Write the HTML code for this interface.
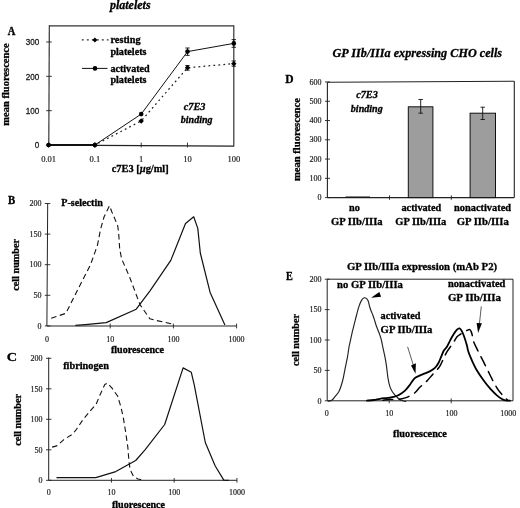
<!DOCTYPE html>
<html><head><meta charset="utf-8"><style>
html,body{margin:0;padding:0;background:#fff;}
svg{display:block;filter:grayscale(1) blur(0.35px);}
</style></head><body>
<svg width="520" height="508" viewBox="0 0 520 508">
<rect width="520" height="508" fill="#fff"/>
<line x1="49.30" y1="25.80" x2="233.80" y2="25.80" stroke="#333" stroke-width="1.2" />
<line x1="49.30" y1="25.20" x2="48.80" y2="145.50" stroke="#222" stroke-width="1.1" />
<line x1="233.80" y1="25.20" x2="233.80" y2="146.50" stroke="#333" stroke-width="1.2" />
<line x1="49.00" y1="145.10" x2="233.80" y2="146.10" stroke="#222" stroke-width="1.1" />
<line x1="46.20" y1="110.67" x2="51.80" y2="110.67" stroke="#222" stroke-width="0.9" />
<line x1="46.20" y1="76.34" x2="51.80" y2="76.34" stroke="#222" stroke-width="0.9" />
<line x1="46.20" y1="42.01" x2="51.80" y2="42.01" stroke="#222" stroke-width="0.9" />
<line x1="94.90" y1="142.60" x2="94.90" y2="147.40" stroke="#222" stroke-width="0.9" />
<line x1="141.20" y1="142.60" x2="141.20" y2="147.40" stroke="#222" stroke-width="0.9" />
<line x1="187.50" y1="142.60" x2="187.50" y2="147.40" stroke="#222" stroke-width="0.9" />
<text transform="translate(39.2,148.30) scale(0.88,1)" font-family='"Liberation Sans", sans-serif' font-size="9.2" text-anchor="end" fill="#1a1a1a" stroke="#1a1a1a" stroke-width="0.3">0</text>
<text transform="translate(39.2,113.97) scale(0.88,1)" font-family='"Liberation Sans", sans-serif' font-size="9.2" text-anchor="end" fill="#1a1a1a" stroke="#1a1a1a" stroke-width="0.3">100</text>
<text transform="translate(39.2,79.64) scale(0.88,1)" font-family='"Liberation Sans", sans-serif' font-size="9.2" text-anchor="end" fill="#1a1a1a" stroke="#1a1a1a" stroke-width="0.3">200</text>
<text transform="translate(39.2,45.31) scale(0.88,1)" font-family='"Liberation Sans", sans-serif' font-size="9.2" text-anchor="end" fill="#1a1a1a" stroke="#1a1a1a" stroke-width="0.3">300</text>
<text x="48.60" y="161.70" font-family='"Liberation Serif", serif' font-size="8.5" font-weight="normal" text-anchor="middle" fill="#1a1a1a" stroke="#1a1a1a" stroke-width="0.18">0.01</text>
<text x="94.90" y="161.70" font-family='"Liberation Serif", serif' font-size="8.5" font-weight="normal" text-anchor="middle" fill="#1a1a1a" stroke="#1a1a1a" stroke-width="0.18">0.1</text>
<text x="141.20" y="161.70" font-family='"Liberation Serif", serif' font-size="8.5" font-weight="normal" text-anchor="middle" fill="#1a1a1a" stroke="#1a1a1a" stroke-width="0.18">1</text>
<text x="187.50" y="161.70" font-family='"Liberation Serif", serif' font-size="8.5" font-weight="normal" text-anchor="middle" fill="#1a1a1a" stroke="#1a1a1a" stroke-width="0.18">10</text>
<text x="233.80" y="161.70" font-family='"Liberation Serif", serif' font-size="8.5" font-weight="normal" text-anchor="middle" fill="#1a1a1a" stroke="#1a1a1a" stroke-width="0.18">100</text>
<polyline points="48.60,145.00 94.90,145.00 141.20,120.97 187.50,67.76 233.80,63.64" fill="none" stroke="#222" stroke-width="1.25" stroke-linejoin="round" stroke-dasharray="1.8 3.2"/>
<polyline points="48.60,145.00 94.90,145.00 141.20,114.10 187.50,51.62 233.80,43.38" fill="none" stroke="#111" stroke-width="1.0" stroke-linejoin="round" />
<line x1="48.60" y1="145.00" x2="94.90" y2="145.00" stroke="#111" stroke-width="2.0" />
<line x1="187.50" y1="48.00" x2="187.50" y2="55.40" stroke="#111" stroke-width="0.9" />
<line x1="185.30" y1="48.00" x2="189.70" y2="48.00" stroke="#111" stroke-width="0.9" />
<line x1="185.30" y1="55.40" x2="189.70" y2="55.40" stroke="#111" stroke-width="0.9" />
<line x1="233.80" y1="39.60" x2="233.80" y2="47.30" stroke="#111" stroke-width="0.9" />
<line x1="231.60" y1="39.60" x2="236.00" y2="39.60" stroke="#111" stroke-width="0.9" />
<line x1="231.60" y1="47.30" x2="236.00" y2="47.30" stroke="#111" stroke-width="0.9" />
<line x1="187.50" y1="65.50" x2="187.50" y2="70.20" stroke="#111" stroke-width="0.9" />
<line x1="185.30" y1="65.50" x2="189.70" y2="65.50" stroke="#111" stroke-width="0.9" />
<line x1="185.30" y1="70.20" x2="189.70" y2="70.20" stroke="#111" stroke-width="0.9" />
<line x1="233.80" y1="61.00" x2="233.80" y2="66.20" stroke="#111" stroke-width="0.9" />
<line x1="231.60" y1="61.00" x2="236.00" y2="61.00" stroke="#111" stroke-width="0.9" />
<line x1="231.60" y1="66.20" x2="236.00" y2="66.20" stroke="#111" stroke-width="0.9" />
<path d="M48.60 142.30 L51.30 145.00 L48.60 147.70 L45.90 145.00Z" fill="#000"/>
<path d="M94.90 142.30 L97.60 145.00 L94.90 147.70 L92.20 145.00Z" fill="#000"/>
<path d="M141.20 118.27 L143.90 120.97 L141.20 123.67 L138.50 120.97Z" fill="#000"/>
<path d="M187.50 65.06 L190.20 67.76 L187.50 70.46 L184.80 67.76Z" fill="#000"/>
<path d="M233.80 60.94 L236.50 63.64 L233.80 66.34 L231.10 63.64Z" fill="#000"/>
<circle cx="48.60" cy="145.00" r="2.3" fill="#000"/>
<circle cx="94.90" cy="145.00" r="2.3" fill="#000"/>
<circle cx="141.20" cy="114.10" r="2.3" fill="#000"/>
<circle cx="187.50" cy="51.62" r="2.3" fill="#000"/>
<circle cx="233.80" cy="43.38" r="2.3" fill="#000"/>
<line x1="81.80" y1="39.90" x2="108.60" y2="39.90" stroke="#333" stroke-width="1.3" stroke-dasharray="2 3"/>
<path d="M94.90 37.40 L97.40 39.90 L94.90 42.40 L92.40 39.90Z" fill="#000"/>
<line x1="82.00" y1="68.40" x2="107.50" y2="68.40" stroke="#111" stroke-width="1.0" />
<circle cx="95.00" cy="68.40" r="2.3" fill="#000"/>
<line x1="47.70" y1="203.00" x2="46.90" y2="326.00" stroke="#222" stroke-width="1.0" />
<line x1="47.00" y1="326.00" x2="236.60" y2="326.00" stroke="#222" stroke-width="1.0" />
<line x1="44.80" y1="325.90" x2="50.30" y2="325.90" stroke="#222" stroke-width="0.9" />
<text x="41.60" y="328.60" font-family='"Liberation Serif", serif' font-size="8" font-weight="normal" text-anchor="end" fill="#1a1a1a" stroke="#1a1a1a" stroke-width="0.18">0</text>
<line x1="44.80" y1="295.30" x2="50.30" y2="295.30" stroke="#222" stroke-width="0.9" />
<text x="41.60" y="298.00" font-family='"Liberation Serif", serif' font-size="8" font-weight="normal" text-anchor="end" fill="#1a1a1a" stroke="#1a1a1a" stroke-width="0.18">50</text>
<line x1="44.80" y1="264.70" x2="50.30" y2="264.70" stroke="#222" stroke-width="0.9" />
<text x="41.60" y="267.40" font-family='"Liberation Serif", serif' font-size="8" font-weight="normal" text-anchor="end" fill="#1a1a1a" stroke="#1a1a1a" stroke-width="0.18">100</text>
<line x1="44.80" y1="234.10" x2="50.30" y2="234.10" stroke="#222" stroke-width="0.9" />
<text x="41.60" y="236.80" font-family='"Liberation Serif", serif' font-size="8" font-weight="normal" text-anchor="end" fill="#1a1a1a" stroke="#1a1a1a" stroke-width="0.18">150</text>
<line x1="44.80" y1="203.50" x2="50.30" y2="203.50" stroke="#222" stroke-width="0.9" />
<text x="41.60" y="206.20" font-family='"Liberation Serif", serif' font-size="8" font-weight="normal" text-anchor="end" fill="#1a1a1a" stroke="#1a1a1a" stroke-width="0.18">200</text>
<line x1="110.20" y1="323.60" x2="110.20" y2="328.40" stroke="#222" stroke-width="0.9" />
<line x1="173.40" y1="323.60" x2="173.40" y2="328.40" stroke="#222" stroke-width="0.9" />
<line x1="236.60" y1="323.60" x2="236.60" y2="328.40" stroke="#222" stroke-width="0.9" />
<text x="47.00" y="342.00" font-family='"Liberation Serif", serif' font-size="8" font-weight="normal" text-anchor="middle" fill="#1a1a1a" stroke="#1a1a1a" stroke-width="0.18">0</text>
<text x="110.20" y="342.00" font-family='"Liberation Serif", serif' font-size="8" font-weight="normal" text-anchor="middle" fill="#1a1a1a" stroke="#1a1a1a" stroke-width="0.18">10</text>
<text x="173.40" y="342.00" font-family='"Liberation Serif", serif' font-size="8" font-weight="normal" text-anchor="middle" fill="#1a1a1a" stroke="#1a1a1a" stroke-width="0.18">100</text>
<text x="236.60" y="342.00" font-family='"Liberation Serif", serif' font-size="8" font-weight="normal" text-anchor="middle" fill="#1a1a1a" stroke="#1a1a1a" stroke-width="0.18">1000</text>
<polyline points="51.20,318.20 65.90,313.30 79.50,286.20 90.60,264.50 97.50,245.00 100.40,230.00 104.00,217.00 109.50,205.80 111.80,211.80 117.70,225.60 118.70,233.50 119.70,249.20 121.70,259.00 129.50,276.80 140.00,304.70 149.80,318.70 154.80,320.20 174.50,324.40" fill="none" stroke="#111" stroke-width="1.1" stroke-linejoin="round" stroke-dasharray="5.5 3.5"/>
<polyline points="75.40,325.40 85.40,324.60 106.20,322.60 136.20,309.20 150.00,290.80 170.80,260.40 185.50,223.50 193.70,216.80 197.80,228.40 200.30,253.00 210.10,292.40 224.90,325.10" fill="none" stroke="#111" stroke-width="1.2" stroke-linejoin="round" />
<line x1="48.70" y1="357.50" x2="48.70" y2="480.30" stroke="#222" stroke-width="1.0" />
<line x1="48.70" y1="480.30" x2="237.00" y2="480.30" stroke="#222" stroke-width="1.0" />
<line x1="46.00" y1="480.30" x2="51.40" y2="480.30" stroke="#222" stroke-width="0.9" />
<text x="42.60" y="483.00" font-family='"Liberation Serif", serif' font-size="8" font-weight="normal" text-anchor="end" fill="#1a1a1a" stroke="#1a1a1a" stroke-width="0.18">0</text>
<line x1="46.00" y1="449.80" x2="51.40" y2="449.80" stroke="#222" stroke-width="0.9" />
<text x="42.60" y="452.50" font-family='"Liberation Serif", serif' font-size="8" font-weight="normal" text-anchor="end" fill="#1a1a1a" stroke="#1a1a1a" stroke-width="0.18">50</text>
<line x1="46.00" y1="419.30" x2="51.40" y2="419.30" stroke="#222" stroke-width="0.9" />
<text x="42.60" y="422.00" font-family='"Liberation Serif", serif' font-size="8" font-weight="normal" text-anchor="end" fill="#1a1a1a" stroke="#1a1a1a" stroke-width="0.18">100</text>
<line x1="46.00" y1="388.80" x2="51.40" y2="388.80" stroke="#222" stroke-width="0.9" />
<text x="42.60" y="391.50" font-family='"Liberation Serif", serif' font-size="8" font-weight="normal" text-anchor="end" fill="#1a1a1a" stroke="#1a1a1a" stroke-width="0.18">150</text>
<line x1="46.00" y1="358.30" x2="51.40" y2="358.30" stroke="#222" stroke-width="0.9" />
<text x="42.60" y="361.00" font-family='"Liberation Serif", serif' font-size="8" font-weight="normal" text-anchor="end" fill="#1a1a1a" stroke="#1a1a1a" stroke-width="0.18">200</text>
<line x1="111.45" y1="478.00" x2="111.45" y2="482.60" stroke="#222" stroke-width="0.9" />
<line x1="174.20" y1="478.00" x2="174.20" y2="482.60" stroke="#222" stroke-width="0.9" />
<line x1="236.95" y1="478.00" x2="236.95" y2="482.60" stroke="#222" stroke-width="0.9" />
<text x="48.70" y="495.20" font-family='"Liberation Serif", serif' font-size="8" font-weight="normal" text-anchor="middle" fill="#1a1a1a" stroke="#1a1a1a" stroke-width="0.18">0</text>
<text x="111.45" y="495.20" font-family='"Liberation Serif", serif' font-size="8" font-weight="normal" text-anchor="middle" fill="#1a1a1a" stroke="#1a1a1a" stroke-width="0.18">10</text>
<text x="174.20" y="495.20" font-family='"Liberation Serif", serif' font-size="8" font-weight="normal" text-anchor="middle" fill="#1a1a1a" stroke="#1a1a1a" stroke-width="0.18">100</text>
<text x="236.95" y="495.20" font-family='"Liberation Serif", serif' font-size="8" font-weight="normal" text-anchor="middle" fill="#1a1a1a" stroke="#1a1a1a" stroke-width="0.18">1000</text>
<polyline points="52.10,447.10 56.80,445.90 63.90,439.60 72.60,434.10 76.50,429.30 82.80,419.90 90.70,410.40 96.20,404.10 100.10,394.70 104.80,384.40 107.40,383.20 112.00,388.10 117.60,396.00 121.00,407.30 123.30,417.50 125.50,431.10 127.80,446.90 128.90,460.50 130.10,469.50 133.50,476.30 138.00,479.00 141.40,479.70" fill="none" stroke="#111" stroke-width="1.1" stroke-linejoin="round" stroke-dasharray="5.5 3.5"/>
<polyline points="56.50,477.60 95.80,477.60 115.80,471.60 135.70,460.50 145.00,449.80 164.70,424.50 183.10,367.90 191.30,372.30 194.20,384.60 205.30,442.50 215.10,465.80 223.80,480.10 228.70,480.40" fill="none" stroke="#111" stroke-width="1.2" stroke-linejoin="round" />
<line x1="327.40" y1="82.30" x2="514.30" y2="81.20" stroke="#222" stroke-width="1.1" />
<line x1="327.40" y1="82.30" x2="327.40" y2="197.60" stroke="#222" stroke-width="1.1" />
<line x1="514.30" y1="81.20" x2="514.30" y2="197.60" stroke="#222" stroke-width="1.1" />
<line x1="327.40" y1="197.60" x2="514.30" y2="197.60" stroke="#222" stroke-width="1.1" />
<line x1="325.00" y1="197.60" x2="330.00" y2="197.60" stroke="#222" stroke-width="0.9" />
<text x="321.60" y="200.30" font-family='"Liberation Serif", serif' font-size="8" font-weight="normal" text-anchor="end" fill="#1a1a1a" stroke="#1a1a1a" stroke-width="0.18">0</text>
<line x1="325.00" y1="178.33" x2="330.00" y2="178.33" stroke="#222" stroke-width="0.9" />
<text x="321.60" y="181.03" font-family='"Liberation Serif", serif' font-size="8" font-weight="normal" text-anchor="end" fill="#1a1a1a" stroke="#1a1a1a" stroke-width="0.18">100</text>
<line x1="325.00" y1="159.06" x2="330.00" y2="159.06" stroke="#222" stroke-width="0.9" />
<text x="321.60" y="161.76" font-family='"Liberation Serif", serif' font-size="8" font-weight="normal" text-anchor="end" fill="#1a1a1a" stroke="#1a1a1a" stroke-width="0.18">200</text>
<line x1="325.00" y1="139.79" x2="330.00" y2="139.79" stroke="#222" stroke-width="0.9" />
<text x="321.60" y="142.49" font-family='"Liberation Serif", serif' font-size="8" font-weight="normal" text-anchor="end" fill="#1a1a1a" stroke="#1a1a1a" stroke-width="0.18">300</text>
<line x1="325.00" y1="120.52" x2="330.00" y2="120.52" stroke="#222" stroke-width="0.9" />
<text x="321.60" y="123.22" font-family='"Liberation Serif", serif' font-size="8" font-weight="normal" text-anchor="end" fill="#1a1a1a" stroke="#1a1a1a" stroke-width="0.18">400</text>
<line x1="325.00" y1="101.25" x2="330.00" y2="101.25" stroke="#222" stroke-width="0.9" />
<text x="321.60" y="103.95" font-family='"Liberation Serif", serif' font-size="8" font-weight="normal" text-anchor="end" fill="#1a1a1a" stroke="#1a1a1a" stroke-width="0.18">500</text>
<line x1="325.00" y1="81.98" x2="330.00" y2="81.98" stroke="#222" stroke-width="0.9" />
<text x="321.60" y="84.68" font-family='"Liberation Serif", serif' font-size="8" font-weight="normal" text-anchor="end" fill="#1a1a1a" stroke="#1a1a1a" stroke-width="0.18">600</text>
<line x1="389.50" y1="195.40" x2="389.50" y2="199.80" stroke="#222" stroke-width="0.9" />
<line x1="451.30" y1="195.40" x2="451.30" y2="199.80" stroke="#222" stroke-width="0.9" />
<rect x="408.3" y="106.8" width="24.6" height="90.8" fill="#9d9d9d" stroke="#111" stroke-width="1"/>
<rect x="470.1" y="113.2" width="25.4" height="84.4" fill="#9d9d9d" stroke="#111" stroke-width="1"/>
<line x1="345.50" y1="197.00" x2="370.00" y2="197.00" stroke="#111" stroke-width="1.0" />
<line x1="420.70" y1="99.50" x2="420.70" y2="113.20" stroke="#111" stroke-width="0.9" />
<line x1="418.50" y1="99.50" x2="422.90" y2="99.50" stroke="#111" stroke-width="0.9" />
<line x1="418.50" y1="113.20" x2="422.90" y2="113.20" stroke="#111" stroke-width="0.9" />
<line x1="482.70" y1="107.20" x2="482.70" y2="119.50" stroke="#111" stroke-width="0.9" />
<line x1="480.50" y1="107.20" x2="484.90" y2="107.20" stroke="#111" stroke-width="0.9" />
<line x1="480.50" y1="119.50" x2="484.90" y2="119.50" stroke="#111" stroke-width="0.9" />
<line x1="327.20" y1="279.20" x2="513.00" y2="279.20" stroke="#222" stroke-width="1.0" />
<line x1="327.20" y1="279.20" x2="327.20" y2="400.80" stroke="#222" stroke-width="1.0" />
<line x1="513.00" y1="279.20" x2="513.00" y2="400.80" stroke="#222" stroke-width="1.0" />
<line x1="327.20" y1="400.80" x2="513.00" y2="400.80" stroke="#222" stroke-width="1.0" />
<line x1="324.80" y1="400.80" x2="329.60" y2="400.80" stroke="#222" stroke-width="0.9" />
<text x="321.40" y="403.50" font-family='"Liberation Serif", serif' font-size="8" font-weight="normal" text-anchor="end" fill="#1a1a1a" stroke="#1a1a1a" stroke-width="0.18">0</text>
<line x1="324.80" y1="370.40" x2="329.60" y2="370.40" stroke="#222" stroke-width="0.9" />
<text x="321.40" y="373.10" font-family='"Liberation Serif", serif' font-size="8" font-weight="normal" text-anchor="end" fill="#1a1a1a" stroke="#1a1a1a" stroke-width="0.18">50</text>
<line x1="324.80" y1="340.00" x2="329.60" y2="340.00" stroke="#222" stroke-width="0.9" />
<text x="321.40" y="342.70" font-family='"Liberation Serif", serif' font-size="8" font-weight="normal" text-anchor="end" fill="#1a1a1a" stroke="#1a1a1a" stroke-width="0.18">100</text>
<line x1="324.80" y1="309.60" x2="329.60" y2="309.60" stroke="#222" stroke-width="0.9" />
<text x="321.40" y="312.30" font-family='"Liberation Serif", serif' font-size="8" font-weight="normal" text-anchor="end" fill="#1a1a1a" stroke="#1a1a1a" stroke-width="0.18">150</text>
<line x1="324.80" y1="279.20" x2="329.60" y2="279.20" stroke="#222" stroke-width="0.9" />
<text x="321.40" y="281.90" font-family='"Liberation Serif", serif' font-size="8" font-weight="normal" text-anchor="end" fill="#1a1a1a" stroke="#1a1a1a" stroke-width="0.18">200</text>
<line x1="389.20" y1="398.40" x2="389.20" y2="403.20" stroke="#222" stroke-width="0.9" />
<line x1="451.20" y1="398.40" x2="451.20" y2="403.20" stroke="#222" stroke-width="0.9" />
<text x="326.80" y="416.00" font-family='"Liberation Serif", serif' font-size="8" font-weight="normal" text-anchor="middle" fill="#1a1a1a" stroke="#1a1a1a" stroke-width="0.18">0</text>
<text x="389.30" y="416.00" font-family='"Liberation Serif", serif' font-size="8" font-weight="normal" text-anchor="middle" fill="#1a1a1a" stroke="#1a1a1a" stroke-width="0.18">10</text>
<text x="451.40" y="416.00" font-family='"Liberation Serif", serif' font-size="8" font-weight="normal" text-anchor="middle" fill="#1a1a1a" stroke="#1a1a1a" stroke-width="0.18">100</text>
<text x="508.30" y="416.00" font-family='"Liberation Serif", serif' font-size="8" font-weight="normal" text-anchor="middle" fill="#1a1a1a" stroke="#1a1a1a" stroke-width="0.18">1000</text>
<path d="M328.50,401.10 C329.10,400.92 330.92,400.88 332.10,400.00 C333.28,399.12 334.42,397.28 335.60,395.80 C336.78,394.32 338.02,393.65 339.20,391.10 C340.38,388.55 341.72,384.25 342.70,380.50 C343.68,376.75 344.30,372.55 345.10,368.60 C345.90,364.65 346.85,360.40 347.50,356.80 C348.15,353.20 348.55,349.53 349.00,347.00 C349.45,344.47 349.65,344.13 350.20,341.60 C350.75,339.07 351.58,334.87 352.30,331.80 C353.02,328.73 353.77,326.08 354.50,323.20 C355.23,320.32 355.98,317.22 356.70,314.50 C357.42,311.78 358.00,309.25 358.80,306.90 C359.60,304.55 360.60,301.92 361.50,300.40 C362.40,298.88 363.35,298.10 364.20,297.80 C365.05,297.50 365.92,298.03 366.60,298.60 C367.28,299.17 367.80,299.88 368.30,301.20 C368.80,302.52 369.12,304.83 369.60,306.50 C370.08,308.17 370.67,309.78 371.20,311.20 C371.73,312.62 372.25,313.55 372.80,315.00 C373.35,316.45 373.95,318.18 374.50,319.90 C375.05,321.62 375.48,323.50 376.10,325.30 C376.72,327.10 377.57,329.07 378.20,330.70 C378.83,332.33 379.35,333.47 379.90,335.10 C380.45,336.73 381.05,338.68 381.50,340.50 C381.95,342.32 382.20,344.07 382.60,346.00 C383.00,347.93 383.40,349.70 383.90,352.10 C384.40,354.50 385.12,357.65 385.60,360.40 C386.08,363.15 386.40,365.65 386.80,368.60 C387.20,371.55 387.50,375.13 388.00,378.10 C388.50,381.07 389.02,384.03 389.80,386.40 C390.58,388.77 391.52,390.53 392.70,392.30 C393.88,394.07 395.62,395.72 396.90,397.00 C398.18,398.28 398.93,399.25 400.40,400.00 C401.87,400.75 404.82,401.25 405.70,401.50" fill="none" stroke="#222" stroke-width="1.15" stroke-linejoin="round" stroke-linecap="round" />
<path d="M366.90,400.60 C368.05,400.50 371.62,400.30 373.80,400.00 C375.98,399.70 377.72,399.17 380.00,398.80 C382.28,398.43 385.20,398.12 387.50,397.80 C389.80,397.48 391.92,397.37 393.80,396.90 C395.68,396.43 396.93,396.05 398.80,395.00 C400.67,393.95 403.12,392.35 405.00,390.60 C406.88,388.85 408.55,386.50 410.10,384.50 C411.65,382.50 412.90,380.00 414.30,378.60 C415.70,377.20 416.83,376.93 418.50,376.10 C420.17,375.27 422.35,374.43 424.30,373.60 C426.25,372.77 428.38,372.08 430.20,371.10 C432.02,370.12 433.80,369.10 435.20,367.70 C436.60,366.30 437.62,364.50 438.60,362.70 C439.58,360.90 440.27,358.85 441.10,356.90 C441.93,354.95 442.63,352.68 443.60,351.00 C444.57,349.32 445.78,348.62 446.90,346.80 C448.02,344.98 449.18,342.20 450.30,340.10 C451.42,338.00 452.48,335.95 453.60,334.20 C454.72,332.45 456.02,330.57 457.00,329.60 C457.98,328.63 458.72,328.18 459.50,328.40 C460.28,328.62 460.92,329.50 461.70,330.90 C462.48,332.30 463.35,334.43 464.20,336.80 C465.05,339.17 466.10,342.60 466.80,345.10 C467.50,347.60 467.57,349.28 468.40,351.80 C469.23,354.32 470.40,357.12 471.80,360.20 C473.20,363.28 474.85,366.95 476.80,370.30 C478.75,373.65 481.27,377.23 483.50,380.30 C485.73,383.37 487.97,386.18 490.20,388.70 C492.43,391.22 494.95,393.67 496.90,395.40 C498.85,397.13 500.50,398.27 501.90,399.10 C503.30,399.93 503.95,400.15 505.30,400.40 C506.65,400.65 509.22,400.57 510.00,400.60" fill="none" stroke="#000" stroke-width="1.8" stroke-linejoin="round" stroke-linecap="round" />
<path d="M383.00,400.30 C383.97,400.15 386.58,399.55 388.80,399.40 C391.02,399.25 393.70,399.62 396.30,399.40 C398.90,399.18 401.52,399.03 404.40,398.10 C407.28,397.17 410.98,395.65 413.60,393.80 C416.22,391.95 417.90,389.12 420.10,387.00 C422.30,384.88 424.70,383.20 426.80,381.10 C428.90,379.00 430.60,376.77 432.70,374.40 C434.80,372.03 437.58,369.55 439.40,366.90 C441.22,364.25 442.35,361.02 443.60,358.50 C444.85,355.98 445.37,354.30 446.90,351.80 C448.43,349.30 451.12,346.00 452.80,343.50 C454.48,341.00 455.67,338.38 457.00,336.80 C458.33,335.22 459.57,334.80 460.80,334.00 C462.03,333.20 463.33,332.62 464.40,332.00 C465.47,331.38 466.30,330.70 467.20,330.30 C468.10,329.90 469.13,329.38 469.80,329.60 C470.47,329.82 470.78,330.62 471.20,331.60 C471.62,332.58 471.90,333.85 472.30,335.50 C472.70,337.15 472.72,339.05 473.60,341.50 C474.48,343.95 476.08,347.08 477.60,350.20 C479.12,353.32 481.02,356.85 482.70,360.20 C484.38,363.55 486.03,366.95 487.70,370.30 C489.37,373.65 490.88,376.95 492.70,380.30 C494.52,383.65 496.65,387.60 498.60,390.40 C500.55,393.20 502.87,395.45 504.40,397.10 C505.93,398.75 507.23,399.77 507.80,400.30" fill="none" stroke="#000" stroke-width="1.5" stroke-linejoin="round" stroke-linecap="round" stroke-dasharray="10 6.5"/>
<line x1="407.60" y1="346.80" x2="413.60" y2="366.00" stroke="#333" stroke-width="0.8" />
<path d="M411.0,365.4 L415.9,363.3 L415.5,373.7Z" fill="#000"/>
<line x1="481.30" y1="306.40" x2="479.30" y2="325.00" stroke="#333" stroke-width="0.8" />
<path d="M476.6,323.0 L481.9,323.2 L478.1,333.0Z" fill="#000"/>
<path d="M371.1,297.7 L379.3,291.9 L381.1,296.8Z" fill="#000"/>
<text transform="translate(109.90,9.30) scale(1.0024,1)" font-family='"Liberation Serif", serif' font-size="12" font-weight="bold" font-style="italic" fill="#000" stroke="#000" stroke-width="0.299">platelets</text>
<text transform="translate(7.70,35.00) scale(0.9125,1)" font-family='"Liberation Serif", serif' font-size="11.5" font-weight="bold" font-style="normal" fill="#000" stroke="#000" stroke-width="0.329">A</text>
<text transform="translate(111.70,172.40) scale(1.0089,1)" font-family='"Liberation Serif", serif' font-size="10.3" font-weight="bold" font-style="normal" fill="#000" stroke="#000" stroke-width="0.297">c7E3 [<tspan font-style="italic">&#181;</tspan>g/ml]</text>
<text transform="translate(8.60,125.80) rotate(-90) scale(1.0325,1)" font-family='"Liberation Serif", serif' font-size="10.2" font-weight="bold" font-style="normal" fill="#000" stroke="#000" stroke-width="0.291">mean fluorescence</text>
<text transform="translate(110.50,43.30) scale(1.0276,1)" font-family='"Liberation Serif", serif' font-size="10" font-weight="bold" font-style="normal" fill="#000" stroke="#000" stroke-width="0.292">resting</text>
<text transform="translate(110.40,54.90) scale(1.0167,1)" font-family='"Liberation Serif", serif' font-size="10" font-weight="bold" font-style="normal" fill="#000" stroke="#000" stroke-width="0.295">platelets</text>
<text transform="translate(110.40,71.60) scale(1.0128,1)" font-family='"Liberation Serif", serif' font-size="10" font-weight="bold" font-style="normal" fill="#000" stroke="#000" stroke-width="0.296">activated</text>
<text transform="translate(110.40,82.70) scale(1.0167,1)" font-family='"Liberation Serif", serif' font-size="10" font-weight="bold" font-style="normal" fill="#000" stroke="#000" stroke-width="0.295">platelets</text>
<text transform="translate(183.80,109.60) scale(1.0286,1)" font-family='"Liberation Serif", serif' font-size="10" font-weight="bold" font-style="italic" fill="#000" stroke="#000" stroke-width="0.292">c7E3</text>
<text transform="translate(180.80,123.10) scale(1.0062,1)" font-family='"Liberation Serif", serif' font-size="10" font-weight="bold" font-style="italic" fill="#000" stroke="#000" stroke-width="0.298">binding</text>
<text transform="translate(7.90,204.20) scale(0.9375,1)" font-family='"Liberation Serif", serif' font-size="11.5" font-weight="bold" font-style="normal" fill="#000" stroke="#000" stroke-width="0.320">B</text>
<text transform="translate(110.90,353.20) scale(0.9618,1)" font-family='"Liberation Serif", serif' font-size="10.5" font-weight="bold" font-style="normal" fill="#000" stroke="#000" stroke-width="0.312">fluorescence</text>
<text transform="translate(61.30,205.60) scale(1.0146,1)" font-family='"Liberation Serif", serif' font-size="10" font-weight="bold" font-style="normal" fill="#000" stroke="#000" stroke-width="0.296">P-selectin</text>
<text transform="translate(19.40,290.80) rotate(-90) scale(1.0653,1)" font-family='"Liberation Serif", serif' font-size="9.6" font-weight="bold" font-style="normal" fill="#000" stroke="#000" stroke-width="0.282">cell number</text>
<text transform="translate(6.76,361.30) scale(1.1429,1)" font-family='"Liberation Serif", serif' font-size="12.5" font-weight="bold" font-style="normal" fill="#000" stroke="#000" stroke-width="0.263">C</text>
<text transform="translate(111.90,507.60) scale(0.9618,1)" font-family='"Liberation Serif", serif' font-size="10.5" font-weight="bold" font-style="normal" fill="#000" stroke="#000" stroke-width="0.312">fluorescence</text>
<text transform="translate(63.20,368.90) scale(1.0295,1)" font-family='"Liberation Serif", serif' font-size="10" font-weight="bold" font-style="normal" fill="#000" stroke="#000" stroke-width="0.291">fibrinogen</text>
<text transform="translate(20.80,445.80) rotate(-90) scale(1.0653,1)" font-family='"Liberation Serif", serif' font-size="9.6" font-weight="bold" font-style="normal" fill="#000" stroke="#000" stroke-width="0.282">cell number</text>
<text transform="translate(332.50,56.90) scale(0.9759,1)" font-family='"Liberation Serif", serif' font-size="12.5" font-weight="bold" font-style="italic" fill="#000" stroke="#000" stroke-width="0.307">GP IIb/IIIa expressing CHO cells</text>
<text transform="translate(285.30,83.30) scale(1.0000,1)" font-family='"Liberation Serif", serif' font-size="11.5" font-weight="bold" font-style="normal" fill="#000" stroke="#000" stroke-width="0.300">D</text>
<text transform="translate(356.20,97.70) scale(1.0238,1)" font-family='"Liberation Serif", serif' font-size="10" font-weight="bold" font-style="italic" fill="#000" stroke="#000" stroke-width="0.293">c7E3</text>
<text transform="translate(350.80,111.50) scale(1.0094,1)" font-family='"Liberation Serif", serif' font-size="10" font-weight="bold" font-style="italic" fill="#000" stroke="#000" stroke-width="0.297">binding</text>
<text transform="translate(299.60,181.00) rotate(-90) scale(1.0590,1)" font-family='"Liberation Serif", serif' font-size="10.0" font-weight="bold" font-style="normal" fill="#000" stroke="#000" stroke-width="0.283">mean fluorescence</text>
<text transform="translate(349.00,210.70) scale(1.0300,1)" font-family='"Liberation Serif", serif' font-size="10" font-weight="bold" font-style="normal" fill="#000" stroke="#000" stroke-width="0.291">no</text>
<text transform="translate(331.00,224.80) scale(1.0633,1)" font-family='"Liberation Serif", serif' font-size="10" font-weight="bold" font-style="normal" fill="#000" stroke="#000" stroke-width="0.282">GP IIb/IIIa</text>
<text transform="translate(401.50,210.60) scale(1.0231,1)" font-family='"Liberation Serif", serif' font-size="10" font-weight="bold" font-style="normal" fill="#000" stroke="#000" stroke-width="0.293">activated</text>
<text transform="translate(395.30,224.80) scale(1.0510,1)" font-family='"Liberation Serif", serif' font-size="10" font-weight="bold" font-style="normal" fill="#000" stroke="#000" stroke-width="0.285">GP IIb/IIIa</text>
<text transform="translate(454.00,210.60) scale(1.0382,1)" font-family='"Liberation Serif", serif' font-size="10" font-weight="bold" font-style="normal" fill="#000" stroke="#000" stroke-width="0.289">nonactivated</text>
<text transform="translate(456.70,224.80) scale(1.0714,1)" font-family='"Liberation Serif", serif' font-size="10" font-weight="bold" font-style="normal" fill="#000" stroke="#000" stroke-width="0.280">GP IIb/IIIa</text>
<text transform="translate(346.90,269.60) scale(1.0750,1)" font-family='"Liberation Serif", serif' font-size="10" font-weight="bold" font-style="normal" fill="#000" stroke="#000" stroke-width="0.279">GP IIb/IIIa expression (mAb P2)</text>
<text transform="translate(285.90,279.80) scale(0.8857,1)" font-family='"Liberation Serif", serif' font-size="11.5" font-weight="bold" font-style="normal" fill="#000" stroke="#000" stroke-width="0.339">E</text>
<text transform="translate(393.10,436.80) scale(0.9764,1)" font-family='"Liberation Serif", serif' font-size="10.5" font-weight="bold" font-style="normal" fill="#000" stroke="#000" stroke-width="0.307">fluorescence</text>
<text transform="translate(299.30,366.00) rotate(-90) scale(1.0694,1)" font-family='"Liberation Serif", serif' font-size="9.6" font-weight="bold" font-style="normal" fill="#000" stroke="#000" stroke-width="0.281">cell number</text>
<text transform="translate(337.10,287.80) scale(1.0677,1)" font-family='"Liberation Serif", serif' font-size="10" font-weight="bold" font-style="normal" fill="#000" stroke="#000" stroke-width="0.281">no GP IIb/IIIa</text>
<text transform="translate(447.90,286.70) scale(0.9879,1)" font-family='"Liberation Serif", serif' font-size="10.6" font-weight="bold" font-style="normal" fill="#000" stroke="#000" stroke-width="0.304">nonactivated</text>
<text transform="translate(447.90,300.60) scale(1.0096,1)" font-family='"Liberation Serif", serif' font-size="10.8" font-weight="bold" font-style="normal" fill="#000" stroke="#000" stroke-width="0.297">GP IIb/IIIa</text>
<text transform="translate(380.50,319.20) scale(0.9875,1)" font-family='"Liberation Serif", serif' font-size="10.4" font-weight="bold" font-style="normal" fill="#000" stroke="#000" stroke-width="0.304">activated</text>
<text transform="translate(380.60,332.50) scale(1.0059,1)" font-family='"Liberation Serif", serif' font-size="10.6" font-weight="bold" font-style="normal" fill="#000" stroke="#000" stroke-width="0.298">GP IIb/IIIa</text>
</svg>
</body></html>
